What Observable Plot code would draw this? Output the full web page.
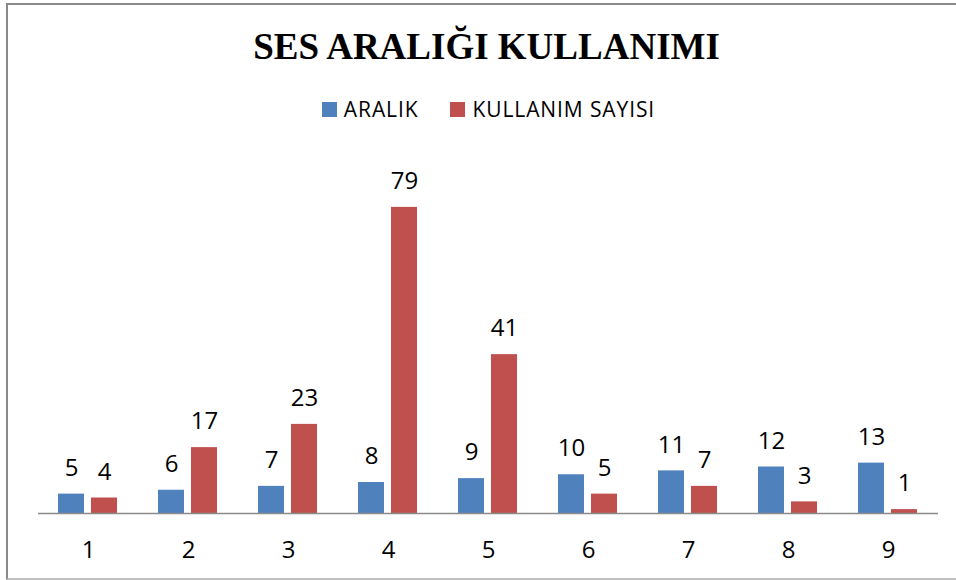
<!DOCTYPE html>
<html>
<head>
<meta charset="utf-8">
<script src="https://cdn.jsdelivr.net/npm/d3@7"></script>
<script src="https://cdn.jsdelivr.net/npm/@observablehq/plot@0.6"></script>
<style>
  html, body { margin: 0; padding: 0; background: #fff; }
  body { width: 956px; height: 580px; overflow: hidden; position: relative; }
  #frame { position: absolute; left: 6px; top: 3px; width: 1000px; height: 573px;
           border-top: 2px solid #8a8a8a; border-left: 2px solid #8a8a8a; border-bottom: 2px solid #c0c0c0; }
  #title { position: absolute; top: 28px; left: 0; width: 973px; text-align: center;
           font-family: "Liberation Serif", "Times New Roman", serif; font-weight: bold;
           font-size: 37px; line-height: 37px; color: #000; }
  #legend { position: absolute; top: 99px; left: 0; width: 977px; text-align: center;
            font-family: "Open Sans", sans-serif; font-size: 21px; line-height: 21px; color: #000;
            letter-spacing: 0.9px; white-space: nowrap; }
  #legend .item { display: inline-block; }
  #legend .item + .item { margin-left: 32px; }
  #legend .sw { display: inline-block; width: 15px; height: 15px; margin-right: 7px; vertical-align: baseline; }
  #chart { position: absolute; top: 130px; left: 0; }
</style>
</head>
<body>
<div id="frame"></div>
<div id="title"></div>
<div id="legend"></div>
<div id="chart"></div>
<script>
const titleText = "SES ARALIĞI KULLANIMI";
const categories = [1, 2, 3, 4, 5, 6, 7, 8, 9];
const seriesNames = ["ARALIK", "KULLANIM SAYISI"];
const aralik = [5, 6, 7, 8, 9, 10, 11, 12, 13];
const kullanimSayisi = [4, 17, 23, 79, 41, 5, 7, 3, 1];
const seriesColors = ["#4F81BD", "#C0504D"];

document.getElementById("title").textContent = titleText;
const legend = document.getElementById("legend");
seriesNames.forEach((name, i) => {
  const item = document.createElement("span");
  item.className = "item";
  const sw = document.createElement("span");
  sw.className = "sw";
  sw.style.background = seriesColors[i];
  item.appendChild(sw);
  item.appendChild(document.createTextNode(name));
  legend.appendChild(item);
});

const data = categories.flatMap((c, i) => [
  {cat: c, series: seriesNames[0], value: aralik[i]},
  {cat: c, series: seriesNames[1], value: kullanimSayisi[i]}
]);

const chart = Plot.plot({
  width: 956,
  height: 450,
  marginLeft: 37,
  marginRight: 17,
  marginTop: 73,
  marginBottom: 67,
  style: {fontFamily: "Open Sans, sans-serif", fontSize: "24px", color: "#000", background: "transparent", overflow: "visible"},
  fx: {domain: categories, paddingInner: 0, paddingOuter: 0, label: null},
  x: {domain: seriesNames, paddingInner: 0.208, paddingOuter: 0.594, axis: null},
  y: {domain: [0, 80], axis: null},
  color: {domain: seriesNames, range: seriesColors},
  marks: [
    Plot.barY(data, {fx: "cat", x: "series", y: "value", fill: "series"}),
    Plot.ruleY([0], {stroke: "#8a8a8a", strokeWidth: 1.6}),
    Plot.text(data, {fx: "cat", x: "series", y: "value", text: d => String(d.value), dy: -26, fontSize: 24}),
    Plot.axisFx({anchor: "bottom", tickSize: 0, tickPadding: 27, fontSize: 24, label: null})
  ]
});
document.getElementById("chart").appendChild(chart);
</script>
</body>
</html>
